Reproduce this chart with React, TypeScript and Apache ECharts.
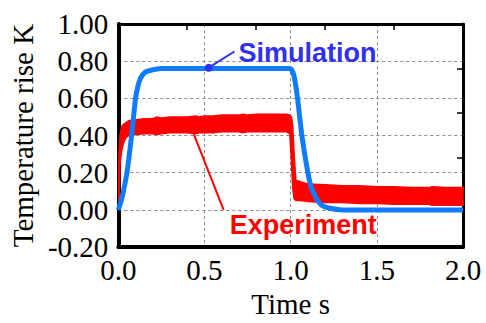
import React, { useEffect, useRef } from "react";
import * as echarts from "echarts";

// Simulation curve (time s, temperature rise K)
const simTime = [0, 0.02, 0.05, 0.077, 0.1, 0.115, 0.13, 0.155, 0.185, 0.25, 0.99, 1.005, 1.02, 1.04, 1.065, 1.1, 1.12, 1.15, 1.18, 1.22, 1.3, 2.0];
const simTemp = [0, 0.06, 0.2, 0.4, 0.6, 0.67, 0.71, 0.74, 0.75, 0.76, 0.76, 0.755, 0.72, 0.6, 0.4, 0.2, 0.12, 0.06, 0.025, 0.01, 0.0, 0.0];

// Experiment: noisy band, read as upper / lower envelope
const expTime = [0, 0.004, 0.01, 0.02, 0.03, 0.045, 0.06, 0.1, 0.15, 0.2, 0.22, 0.25, 0.3, 0.35, 0.4, 0.45, 0.47, 0.5, 0.55, 0.6, 0.65, 0.7, 0.72, 0.75, 0.8, 0.85, 0.9, 0.95, 0.975, 0.995, 1.005, 1.012, 1.02, 1.03, 1.06, 1.1, 1.2, 1.3, 1.4, 1.5, 1.6, 1.7, 1.8, 1.82, 1.9, 2.0];
const expUpper = [0.0, 0.3, 0.4, 0.45, 0.46, 0.47, 0.48, 0.485, 0.49, 0.49, 0.5, 0.495, 0.5, 0.5, 0.5, 0.505, 0.5, 0.505, 0.505, 0.51, 0.51, 0.51, 0.515, 0.51, 0.515, 0.515, 0.515, 0.515, 0.515, 0.51, 0.5, 0.45, 0.3, 0.16, 0.15, 0.14, 0.135, 0.13, 0.13, 0.125, 0.125, 0.12, 0.12, 0.125, 0.12, 0.12];
const expLower = [0.0, 0.02, 0.25, 0.32, 0.36, 0.39, 0.4, 0.405, 0.41, 0.41, 0.405, 0.41, 0.415, 0.415, 0.415, 0.41, 0.415, 0.415, 0.415, 0.42, 0.42, 0.42, 0.415, 0.42, 0.42, 0.42, 0.42, 0.42, 0.42, 0.41, 0.25, 0.12, 0.06, 0.05, 0.05, 0.045, 0.04, 0.04, 0.035, 0.035, 0.03, 0.03, 0.03, 0.025, 0.025, 0.025];

// Annotations: [anchor on curve, end of pointer], and label anchors
const simPointer = [[0.5245, 0.765], [0.674, 0.852]];
const expPointer = [[0.438, 0.408], [0.611, 0.0]];
const simLabelAt = [0.697, 0.842];
const expLabelAt = [0.646, -0.0825];

const SERIF = "Liberation Serif";
const SANS = "Liberation Sans";

export default function App() {
  const ref = useRef<HTMLDivElement>(null);
  useEffect(() => {
    if (!ref.current) return;
    const chart = echarts.init(ref.current, null, { renderer: "svg" });
    const gridLine = { show: true, lineStyle: { color: "#8a8a8a", width: 1, type: [3, 3] as any } };
    const rich = { s: { fontFamily: SERIF, fontSize: 29, color: "#000" } };
    const option: any = {
      animation: false,
      textStyle: { fontFamily: SERIF },
      grid: { left: 116, right: 23, top: 24, bottom: 64, containLabel: false },
      xAxis: [
        {
          type: "value", min: 0, max: 2, interval: 0.5, position: "bottom",
          name: "Time s", nameLocation: "middle", nameGap: 38,
          nameTextStyle: { fontFamily: SERIF, fontSize: 29, color: "#000" },
          axisLine: { show: true, onZero: false, lineStyle: { color: "#000", width: 4 } },
          axisTick: { show: false },
          axisLabel: {
            fontFamily: SERIF, fontSize: 29, color: "#000", margin: 8, rich,
            formatter: (v: number) => `{s|${v.toFixed(1)}}`,
          },
          splitLine: gridLine,
        },
        {
          type: "value", min: 0, max: 2, interval: 0.4, position: "top",
          axisLine: { show: true, onZero: false, lineStyle: { color: "#000", width: 3 } },
          axisTick: { show: true, inside: true, length: 6, lineStyle: { color: "#000", width: 1.5 } },
          axisLabel: { show: false }, splitLine: { show: false },
        },
      ],
      yAxis: [
        {
          type: "value", min: -0.2, max: 1.0, interval: 0.2, position: "left",
          name: "Temperature rise K", nameLocation: "middle", nameGap: 76,
          nameTextStyle: { fontFamily: SERIF, fontSize: 29, color: "#000" },
          axisLine: { show: true, onZero: false, lineStyle: { color: "#000", width: 4 } },
          axisTick: { show: false },
          axisLabel: {
            fontFamily: SERIF, fontSize: 29, color: "#000", margin: 10, rich,
            formatter: (v: number) => `{s|${v.toFixed(2)}}`,
          },
          splitLine: gridLine,
        },
        {
          type: "value", min: 0, max: 1.2, interval: 0.24, position: "right",
          axisLine: { show: true, onZero: false, lineStyle: { color: "#000", width: 3 } },
          axisTick: { show: true, inside: true, length: 6, lineStyle: { color: "#000", width: 1.5 } },
          axisLabel: { show: false }, splitLine: { show: false },
        },
      ],
      series: [
        {
          type: "custom", name: "Experiment", xAxisIndex: 0, yAxisIndex: 0,
          data: expTime.map((t, i) => [t, expLower[i], expUpper[i]]),
          encode: { x: 0, y: [1, 2] },
          clip: true, z: 2,
          renderItem: (params: any, api: any) => {
            if (params.dataIndex !== 0) return null;
            const pts: number[][] = [];
            for (let i = 0; i < expTime.length; i++) pts.push(api.coord([expTime[i], expUpper[i]]));
            for (let i = expTime.length - 1; i >= 0; i--) pts.push(api.coord([expTime[i], expLower[i]]));
            return {
              type: "polygon",
              shape: { points: pts },
              style: { fill: "#ff0000", stroke: "#ff0000", lineWidth: 1.5 },
            };
          },
        },
        {
          type: "line", name: "Simulation", z: 3,
          data: simTime.map((t, i) => [t, simTemp[i]]),
          symbol: "none", lineStyle: { color: "#0f7bff", width: 5 }, smooth: 0.2,
        },
        {
          type: "line", name: "simPointer", z: 4, symbol: "none",
          lineStyle: { color: "#3030f0", width: 2 },
          data: [
            { value: simPointer[0], symbol: "circle", symbolSize: 8, itemStyle: { color: "#3030f0", opacity: 1 } },
            { value: simPointer[1] },
          ],
          showSymbol: true,
        },
        {
          type: "line", name: "expPointer", z: 4, symbol: "none",
          lineStyle: { color: "#ff0000", width: 2 },
          data: expPointer,
        },
        {
          type: "scatter", z: 5, symbolSize: 0, silent: true,
          itemStyle: { opacity: 1 },
          data: [
            { value: simLabelAt, label: { show: true, formatter: "Simulation", color: "#3030f0" } },
            { value: expLabelAt, label: { show: true, formatter: "Experiment", color: "#ff0000" } },
          ],
          label: { position: [0, 0], align: "left", verticalAlign: "middle", fontFamily: SANS, fontWeight: "bold", fontSize: 27, opacity: 1 },
        },
      ],
    };
    chart.setOption(option);
    return () => chart.dispose();
  }, []);
  return <div ref={ref} style={{ position: "fixed", left: 0, top: 0, width: 486, height: 323, background: "#fff" }} />;
}
